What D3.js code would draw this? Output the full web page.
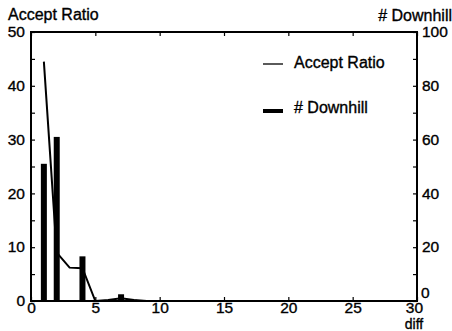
<!DOCTYPE html>
<html>
<head>
<meta charset="utf-8">
<script src="https://cdn.jsdelivr.net/npm/d3@7"></script>
<style>
  body { margin: 0; background: #fff; }
  text { font-family: "Liberation Sans", Arial, sans-serif; fill: #000; stroke: #000; stroke-width: 0.35px; }
</style>
</head>
<body>
<div id="chart"></div>
<script>
// data
const diffs = [1, 2, 3, 4, 5, 6, 7, 8, 9, 10, 15, 20, 25, 30];
const acceptRatio = [44.5, 9, 6.2, 6.1, 0, 0.2, 0.5, 0.2, 0, 0, 0, 0, 0, 0];
const downhillX = [1, 2, 4, 6, 7, 8];
const downhill = [51, 61, 16.6, 0.4, 2.5, 0.5];
const xTicks = [0, 5, 10, 15, 20, 25, 30];
const leftTicks = [0, 10, 20, 30, 40, 50];
const rightTicks = [0, 20, 40, 60, 80, 100];

const width = 452;
const height = 331;
const marginLeft = 31;
const marginRight = 35;
const marginTop = 32;
const marginBottom = 30;
const chartWidth = width - marginLeft - marginRight;
const chartHeight = height - marginTop - marginBottom;

const svg = d3.select("#chart")
  .append("svg")
  .attr("width", width)
  .attr("height", height);

const g = svg.append("g")
  .attr("transform", `translate(${marginLeft}, ${marginTop})`);

// scales
const xScale = d3.scaleLinear().domain([0, 30]).range([0, chartWidth]);
const yLeft = d3.scaleLinear().domain([0, 50]).range([chartHeight, 0]);
const yRight = d3.scaleLinear().domain([0, 100]).range([chartHeight, 0]);

// bars (# Downhill, right axis)
const barW = 6;
g.append("g")
  .selectAll("rect")
  .data(downhillX.map((x, i) => ({ x, v: downhill[i] })))
  .join("rect")
  .attr("x", (d) => xScale(d.x) - barW / 2)
  .attr("width", barW)
  .attr("y", (d) => yRight(d.v))
  .attr("height", (d) => yRight(0) - yRight(d.v))
  .attr("fill", "#000");

// accept ratio line
const line = d3.line()
  .x((d, i) => xScale(diffs[i]))
  .y((d) => yLeft(d));

g.append("path")
  .datum(acceptRatio)
  .attr("d", line)
  .attr("fill", "none")
  .attr("stroke", "#000")
  .attr("stroke-width", 2);

// axes: ticks point inward
const fmt = d3.format("d");
const axisStyle = (sel) => {
  sel.select(".domain").remove();
  sel.selectAll("line").attr("stroke", "#000").attr("stroke-width", 1.2);
  sel.selectAll("text").attr("font-size", 15.5).attr("font-family", "Liberation Sans, Arial, sans-serif");
};

g.append("g")
  .attr("transform", `translate(0, ${chartHeight})`)
  .call(d3.axisBottom(xScale).tickValues(xTicks).tickFormat(fmt).tickSizeInner(-4).tickPadding(1))
  .call(axisStyle)
  .selectAll("text")
  .attr("dx", (d) => d === 30 ? "-0.2em" : 0);

g.append("g")
  .call(d3.axisTop(xScale).tickValues(xTicks).tickFormat("").tickSizeInner(-4))
  .call(axisStyle);

g.append("g")
  .call(d3.axisLeft(yLeft).tickValues(d3.range(0, 51, 5)).tickFormat((d) => d % 10 === 0 ? d : "").tickSizeInner(-4).tickPadding(6))
  .call(axisStyle)
  .selectAll("text").attr("dy", "0.3em");

g.append("g")
  .attr("transform", `translate(${chartWidth}, 0)`)
  .call(d3.axisRight(yRight).tickValues(d3.range(0, 101, 10)).tickFormat((d) => rightTicks.includes(d) ? d : "").tickSizeInner(-4).tickPadding(5))
  .call(axisStyle)
  .selectAll("text")
  .attr("dy", (d) => d === 0 ? "-0.2em" : "0.3em")
  .attr("x", (d) => d === 0 ? 4 : 5);

// frame
g.append("rect")
  .attr("width", chartWidth)
  .attr("height", chartHeight)
  .attr("fill", "none")
  .attr("stroke", "#000")
  .attr("stroke-width", 2);

// titles
svg.append("text").attr("x", 8).attr("y", 20).attr("font-size", 16).text("Accept Ratio");
svg.append("text").attr("x", 452).attr("y", 21).attr("font-size", 16).attr("text-anchor", "end").text("# Downhill");
svg.append("text").attr("x", 414).attr("y", 329).attr("font-size", 14).attr("text-anchor", "middle").text("diff");

// legend
const legend = svg.append("g").attr("transform", "translate(263, 64)");
legend.append("line").attr("x1", 0).attr("x2", 20).attr("y1", 0).attr("y2", 0)
  .attr("stroke", "#000").attr("stroke-width", 1.3);
legend.append("text").attr("x", 31).attr("y", 4).attr("font-size", 16).text("Accept Ratio");
legend.append("rect").attr("x", 0).attr("y", 45).attr("width", 20).attr("height", 4).attr("fill", "#000");
legend.append("text").attr("x", 31).attr("y", 49).attr("font-size", 16).text("# Downhill");
</script>
</body>
</html>
